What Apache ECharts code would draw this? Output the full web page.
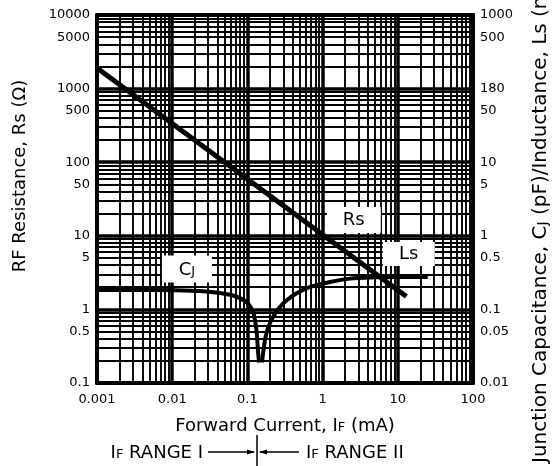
<!DOCTYPE html>
<html>
<head>
<meta charset="utf-8">
<script src="https://cdn.jsdelivr.net/npm/echarts@6/dist/echarts.min.js"></script>
<style>
html,body{margin:0;padding:0;background:#fff;}
#chart{width:554px;height:466px;}
</style>
</head>
<body>
<div id="chart"></div>
<script>
// ---- data ----
const xTickValues = [0.001, 0.01, 0.1, 1, 10, 100];
const xTickLabels = ['0.001', '0.01', '0.1', '1', '10', '100'];
const leftTickValues = [0.1, 0.5, 1, 5, 10, 50, 100, 500, 1000, 5000, 10000];
const leftTickLabels = ['0.1', '0.5', '1', '5', '10', '50', '100', '500', '1000', '5000', '10000'];
const rightTickValues = [0.01, 0.05, 0.1, 0.5, 1, 5, 10, 50, 100, 500, 1000];
const rightTickLabels = ['0.01', '0.05', '0.1', '0.5', '1', '5', '10', '50', '180', '500', '1000'];

const rsCurrent = [0.001, 13];
const rsValue = [1900, 1.5];
const cjCurrent = [0.001, 0.005, 0.023, 0.043, 0.068, 0.093, 0.108, 0.119, 0.126, 0.134, 0.138, 0.143];
const cjValue = [0.184, 0.184, 0.178, 0.167, 0.152, 0.130, 0.111, 0.092, 0.072, 0.045, 0.028, 0.019];
const lsCurrent = [0.156, 0.171, 0.188, 0.219, 0.271, 0.336, 0.457, 0.621, 0.869, 1.25, 2.31, 4.27, 10.7, 25];
const lsValue = [0.019, 0.038, 0.056, 0.079, 0.108, 0.134, 0.167, 0.195, 0.215, 0.236, 0.262, 0.272, 0.275, 0.275];

// ---- helpers ----
function minorGrid(lo, hi) {
  const out = [];
  for (let e = Math.round(Math.log10(lo)); e < Math.round(Math.log10(hi)); e++) {
    for (let k = 2; k <= 9; k++) out.push(+(k * Math.pow(10, e)).toPrecision(6));
  }
  return out;
}
function labelFor(values, labels) {
  return function (v) {
    for (let i = 0; i < values.length; i++) {
      if (Math.abs(Math.log10(v) - Math.log10(values[i])) < 1e-6) return labels[i];
    }
    return '';
  };
}
function pairs(xs, ys) { return xs.map((x, i) => [x, ys[i]]); }

const FONT = 'DejaVu Sans';
const INK = '#000';
function smallCapsRich(size, small) {
  return {
    n: {fontFamily: FONT, fontSize: size, color: INK, fill: INK, verticalAlign: 'bottom', lineHeight: size + 2},
    s: {fontFamily: FONT, fontSize: small, color: INK, fill: INK, verticalAlign: 'bottom', lineHeight: size + 2, padding: [0, 0, 1, 0]}
  };
}

const chart = echarts.init(document.getElementById('chart'), null, {renderer: 'canvas'});

const option = {
  backgroundColor: '#fff',
  animation: false,
  textStyle: {fontFamily: FONT, color: INK},
  grid: {left: 97, right: 81, top: 15, bottom: 83, containLabel: false},
  xAxis: [
    {
      type: 'log', logBase: 10, min: 0.001, max: 100, position: 'bottom',
      name: '{n|Forward Current, I}{s|F}{n| (mA)}',
      nameLocation: 'middle', nameGap: 32,
      nameTextStyle: {rich: smallCapsRich(18, 13)},
      axisLine: {show: true, lineStyle: {color: INK, width: 4}},
      axisTick: {show: false, customValues: xTickValues},
      axisLabel: {show: true, customValues: xTickValues, formatter: labelFor(xTickValues, xTickLabels),
        fontFamily: FONT, fontSize: 13, color: INK, margin: 10},
      splitLine: {show: true, lineStyle: {color: INK, width: 3.5}},
      z: 3
    },
    {
      type: 'log', logBase: 10, min: 0.001, max: 100, position: 'top',
      axisLine: {show: true, lineStyle: {color: INK, width: 4}},
      axisTick: {show: false, customValues: minorGrid(0.001, 100)},
      axisLabel: {show: false},
      splitLine: {show: true, lineStyle: {color: INK, width: 1.9}},
      z: 2
    }
  ],
  yAxis: [
    {
      type: 'log', logBase: 10, min: 0.1, max: 10000, position: 'left',
      axisLine: {show: true, lineStyle: {color: INK, width: 4}},
      axisTick: {show: false, customValues: [0.1, 1, 10, 100, 1000, 10000]},
      axisLabel: {show: true, customValues: leftTickValues, formatter: labelFor(leftTickValues, leftTickLabels),
        fontFamily: FONT, fontSize: 13, color: INK, margin: 7},
      splitLine: {show: true, lineStyle: {color: INK, width: 3.5}},
      z: 3
    },
    {
      type: 'log', logBase: 10, min: 0.01, max: 1000, position: 'right',
      axisLine: {show: true, lineStyle: {color: INK, width: 4}},
      axisTick: {show: false, customValues: minorGrid(0.01, 1000)},
      axisLabel: {show: true, customValues: rightTickValues, formatter: labelFor(rightTickValues, rightTickLabels),
        fontFamily: FONT, fontSize: 13, color: INK, margin: 7},
      splitLine: {show: true, lineStyle: {color: INK, width: 1.9}},
      z: 2
    }
  ],
  series: [
    {
      name: 'Rs', type: 'line', xAxisIndex: 0, yAxisIndex: 0,
      data: pairs(rsCurrent, rsValue), showSymbol: false, symbol: 'none',
      lineStyle: {color: INK, width: 5}, z: 5,
      markPoint: {
        symbol: 'rect', symbolSize: [54, 26], itemStyle: {color: '#fff'},
        label: {show: true, position: 'inside', formatter: 'Rs', fontFamily: FONT, fontSize: 18, color: INK},
        data: [{coord: [2.6, 16.4]}], z: 6
      }
    },
    {
      name: 'CJ', type: 'line', xAxisIndex: 0, yAxisIndex: 1,
      data: pairs(cjCurrent, cjValue), showSymbol: false, symbol: 'none',
      smooth: 0.25,
      lineStyle: {color: INK, width: 4}, z: 5,
      markPoint: {
        symbol: 'rect', symbolSize: [50, 27], itemStyle: {color: '#fff'},
        label: {show: true, position: 'inside', formatter: '{n|C}{s|J}', rich: smallCapsRich(18, 13)},
        data: [{coord: [0.0157, 0.354]}], z: 6
      }
    },
    {
      name: 'Ls', type: 'line', xAxisIndex: 0, yAxisIndex: 1,
      data: pairs(lsCurrent, lsValue), showSymbol: false, symbol: 'none',
      smooth: 0.25,
      lineStyle: {color: INK, width: 4}, z: 5,
      markPoint: {
        symbol: 'rect', symbolSize: [52, 24], itemStyle: {color: '#fff'},
        label: {show: true, position: 'inside', formatter: 'Ls', fontFamily: FONT, fontSize: 18, color: INK},
        data: [{coord: [14, 0.566]}], z: 6
      }
    }
  ],
  graphic: [
    {
      type: 'text', x: 20, y: 176, rotation: Math.PI / 2,
      style: {text: 'RF Resistance, Rs (Ω)', fontFamily: FONT, fontSize: 18, fill: INK, align: 'center', verticalAlign: 'middle'}
    },
    {
      type: 'text', x: 540, y: 463, rotation: Math.PI / 2,
      style: {text: '{n|Junction Capacitance, C}{s|J}{n| (pF)/Inductance, Ls (nH)}',
        align: 'left', verticalAlign: 'middle', rich: smallCapsRich(20, 14)}
    },
    {
      type: 'text', x: 203, y: 452,
      style: {text: '{n|I}{s|F}{n| RANGE I}', align: 'right', verticalAlign: 'middle', rich: smallCapsRich(18, 13)}
    },
    {
      type: 'text', x: 306, y: 452,
      style: {text: '{n|I}{s|F}{n| RANGE II}', align: 'left', verticalAlign: 'middle', rich: smallCapsRich(18, 13)}
    },
    {type: 'line', shape: {x1: 208, y1: 452, x2: 254, y2: 452}, style: {stroke: INK, lineWidth: 1.5}},
    {type: 'line', shape: {x1: 260, y1: 452, x2: 299, y2: 452}, style: {stroke: INK, lineWidth: 1.5}},
    {type: 'line', shape: {x1: 257, y1: 435, x2: 257, y2: 466}, style: {stroke: INK, lineWidth: 1.5}},
    {type: 'polygon', shape: {points: [[247, 449.5], [255, 452], [247, 454.5]]}, style: {fill: INK}},
    {type: 'polygon', shape: {points: [[267, 449.5], [259, 452], [267, 454.5]]}, style: {fill: INK}}
  ]
};

chart.setOption(option);
</script>
</body>
</html>
